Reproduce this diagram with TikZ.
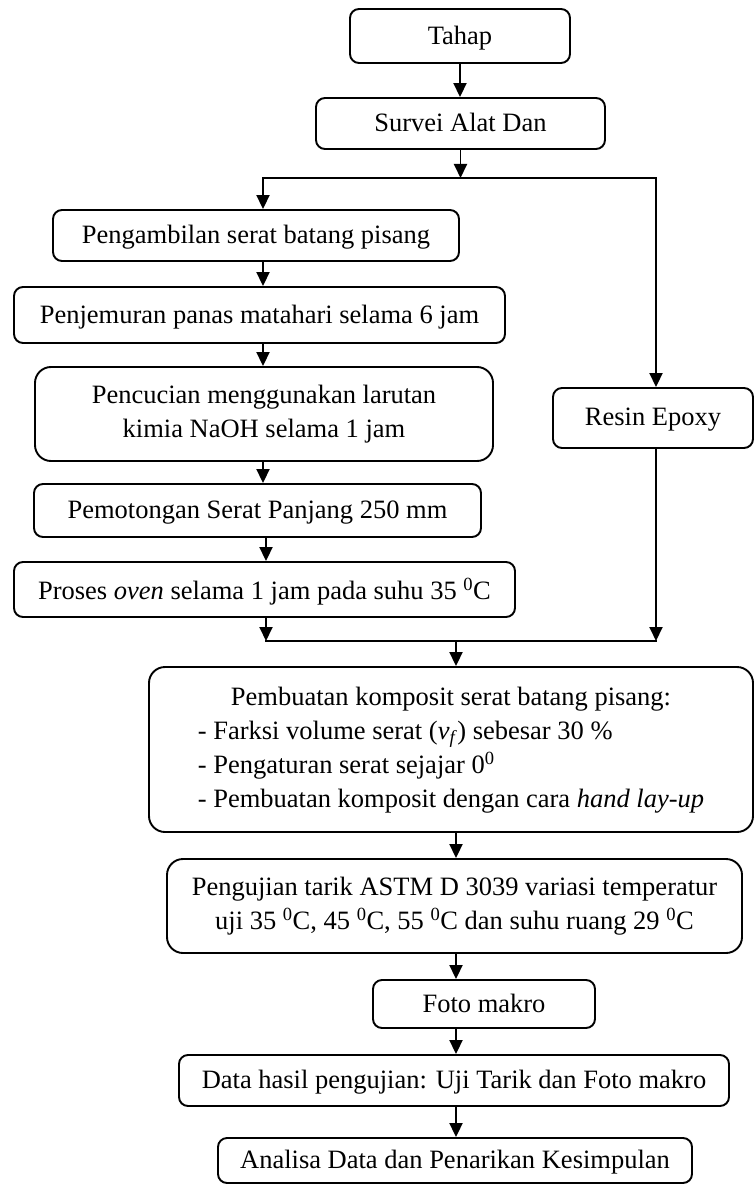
\documentclass[tikz,border=0pt]{standalone}
\usepackage{fontspec}
\setmainfont{Liberation Serif}
\usetikzlibrary{arrows.meta}
\begin{document}
\begin{tikzpicture}[x=1pt,y=-1pt,
  box/.style={draw,line width=1.9pt,rounded corners=9pt,align=center,inner sep=0pt,text depth=2pt,font=\fontsize{26.5}{34}\selectfont},
  bigbox/.style={box,rounded corners=16pt,text depth=},
  arr/.style={line width=1.9pt,line cap=rect,-{Triangle[length=14pt,width=13pt]}},
  ln/.style={line width=1.9pt,line cap=rect}]
\useasboundingbox (0,0) rectangle (754,1185);
% boxes
\node[box,minimum width=220pt,minimum height=54pt] (tahap) at (460,36) {Tahap};
\node[box,minimum width=289pt,minimum height=51pt] (survei) at (460.5,123.5) {Survei Alat Dan};
\node[box,minimum width=406pt,minimum height=51pt] (ambil) at (256,235.5) {Pengambilan serat batang pisang};
\node[box,minimum width=491pt,minimum height=56pt] (jemur) at (259.5,315) {Penjemuran panas matahari selama 6 jam};
\node[bigbox,minimum width=458pt,minimum height=94pt] (cuci) at (264,414) {Pencucian menggunakan larutan\\kimia NaOH selama 1 jam};
\node[box,minimum width=447pt,minimum height=53pt] (potong) at (257.5,510.5) {Pemotongan Serat Panjang 250 mm};
\node[box,minimum width=501pt,minimum height=55pt] (oven) at (264.5,589.5) {Proses \textit{oven} selama 1 jam pada suhu 35 \textsuperscript{0}C};
\node[box,minimum width=200pt,minimum height=60pt] (resin) at (653,418) {Resin Epoxy};
\node[bigbox,minimum width=604pt,minimum height=165pt] (buat) at (451,749.5) {\begin{tabular}{@{}l@{}}
  \multicolumn{1}{@{}c@{}}{Pembuatan komposit serat batang pisang:}\\
  - Farksi volume serat (\textit{v}\textsubscript{\textit{f}}) sebesar 30 \%\\
  - Pengaturan serat sejajar 0\textsuperscript{0}\\
  - Pembuatan komposit dengan cara \textit{hand lay-up}
\end{tabular}};
\node[bigbox,minimum width=575pt,minimum height=94pt] (uji) at (454.5,906) {Pengujian tarik ASTM D 3039 variasi temperatur\\uji 35 \textsuperscript{0}C, 45 \textsuperscript{0}C, 55 \textsuperscript{0}C dan suhu ruang 29 \textsuperscript{0}C};
\node[box,minimum width=222pt,minimum height=48pt] (foto) at (484,1004) {Foto makro};
\node[box,minimum width=550pt,minimum height=51pt] (data) at (454,1080.5) {Data hasil pengujian: Uji Tarik dan Foto makro};
\node[box,minimum width=474pt,minimum height=45pt] (analisa) at (455,1160.5) {Analisa Data dan Penarikan Kesimpulan};
% split and merge points
\coordinate (splitL) at (263,178);
\coordinate (splitR) at (656,178);
\coordinate (mergeL) at (266,641);
\coordinate (mergeR) at (656,641);
\coordinate (mergeM) at (456,641);
% connectors
\draw[arr] (tahap.south) -- (tahap.south |- survei.north);
\draw[arr] (survei.south) -- (survei.south |- splitL);
\draw[ln] (splitL) -- (splitR);
\draw[arr] (splitL) -- (splitL |- ambil.north);
\draw[arr] (splitR) -- (splitR |- resin.north);
\draw[arr] (ambil.south -| splitL) -- (jemur.north -| splitL);
\draw[arr] (jemur.south -| splitL) -- (cuci.north -| splitL);
\draw[arr] (cuci.south -| splitL) -- (potong.north -| splitL);
\draw[arr] (potong.south -| mergeL) -- (oven.north -| mergeL);
\draw[arr] (oven.south -| mergeL) -- (mergeL);
\draw[arr] (resin.south -| mergeR) -- (mergeR);
\draw[ln] (mergeL) -- (mergeR);
\draw[arr] (mergeM) -- (mergeM |- buat.north);
\draw[arr] (buat.south -| mergeM) -- (uji.north -| mergeM);
\draw[arr] (uji.south -| mergeM) -- (foto.north -| mergeM);
\draw[arr] (foto.south -| mergeM) -- (data.north -| mergeM);
\draw[arr] (data.south -| mergeM) -- (analisa.north -| mergeM);
\end{tikzpicture}
\end{document}
